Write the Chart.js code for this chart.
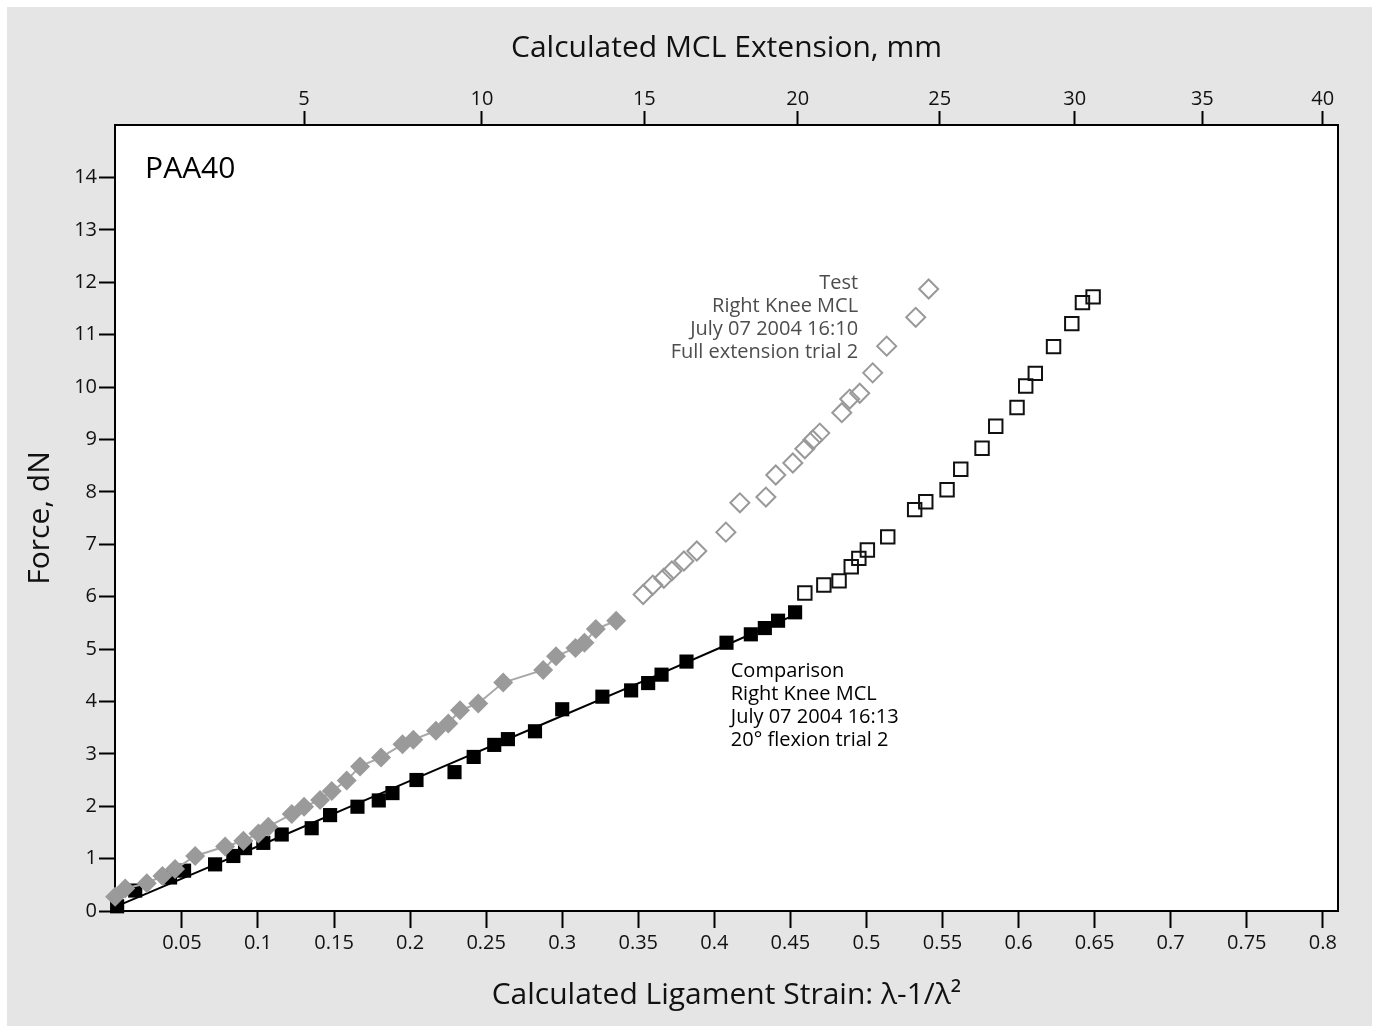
<!DOCTYPE html>
<html>
<head>
<meta charset="utf-8">
<script src="https://cdn.jsdelivr.net/npm/chart.js@4.4.0/dist/chart.umd.min.js"></script>
<style>
body{margin:0;background:#fff;}
#wrap{width:1378px;height:1031px;position:relative;}
</style>
</head>
<body>
<div id="wrap"><canvas id="myChart"></canvas></div>
<script>
// test run, full extension (grey diamonds)
const testFilledStrain=[0.0061,0.0127,0.0269,0.0372,0.0455,0.0587,0.0784,0.0904,0.1003,0.1068,0.1222,0.1303,0.1408,0.1485,0.1583,0.1671,0.1809,0.1950,0.2021,0.2170,0.2251,0.2328,0.2448,0.2612,0.2875,0.2959,0.3087,0.3146,0.3221,0.3355]
const testFilledForce=[0.27,0.43,0.53,0.67,0.80,1.05,1.23,1.34,1.48,1.61,1.85,1.99,2.12,2.29,2.49,2.76,2.93,3.18,3.27,3.44,3.58,3.83,3.96,4.36,4.60,4.86,5.02,5.12,5.38,5.54]
const testOpenStrain=[0.3532,0.3596,0.3668,0.3721,0.3800,0.3885,0.4076,0.4168,0.4339,0.4404,0.4516,0.4595,0.4647,0.4693,0.4838,0.4890,0.4956,0.5041,0.5133,0.5324,0.5409]
const testOpenForce=[6.04,6.22,6.35,6.49,6.68,6.87,7.23,7.79,7.90,8.32,8.55,8.82,8.99,9.12,9.51,9.77,9.88,10.27,10.78,11.33,11.87]

// comparison run, 20 deg flexion (black squares)
const compFilledStrain=[0.0074,0.0193,0.0422,0.0514,0.0718,0.0838,0.0915,0.1035,0.1156,0.1353,0.1474,0.1654,0.1794,0.1884,0.2042,0.2292,0.2418,0.2553,0.2643,0.2821,0.3000,0.3264,0.3453,0.3565,0.3653,0.3817,0.4080,0.4240,0.4332,0.4419,0.4531]
const compFilledForce=[0.09,0.39,0.64,0.77,0.89,1.05,1.20,1.30,1.46,1.58,1.83,1.99,2.11,2.25,2.50,2.65,2.94,3.17,3.28,3.43,3.85,4.09,4.21,4.35,4.51,4.76,5.12,5.28,5.40,5.54,5.70]
const compOpenStrain=[0.4595,0.472,0.482,0.490,0.495,0.5006,0.514,0.5317,0.539,0.553,0.562,0.576,0.585,0.599,0.6047,0.611,0.623,0.635,0.642,0.649]
const compOpenForce=[6.07,6.22,6.30,6.57,6.73,6.89,7.14,7.66,7.81,8.04,8.43,8.83,9.25,9.61,10.02,10.26,10.77,11.21,11.61,11.72]

// fitted line through the comparison run
const compFitStrain=[0.0061,0.1093,0.2164,0.3576,0.4529]
const compFitForce=[0.08,1.35,2.69,4.44,5.65]

// axes
const xTickValues=[0.05,0.1,0.15,0.2,0.25,0.3,0.35,0.4,0.45,0.5,0.55,0.6,0.65,0.7,0.75,0.8]
const yTickValues=[0,1,2,3,4,5,6,7,8,9,10,11,12,13,14]
const topTickLabels=['5','10','15','20','25','30','35','40']
const topTickStrain=[0.1303,0.2472,0.354,0.4548,0.5482,0.6369,0.7208,0.800]

const panelLabel='PAA40'
const testNote=['Test','Right Knee MCL','July 07 2004 16:10','Full extension trial 2']
const compNote=['Comparison','Right Knee MCL','July 07 2004 16:13','20° flexion trial 2']

function pts(xs,ys){
	return xs.map((v,i)=>({x:v,y:ys[i]}))
}

const FONT='"Open Sans", sans-serif'
Chart.defaults.font.family=FONT
Chart.defaults.color='#000'

const paper={
	id:'paper',
	beforeDraw(chart){
		const {ctx,width,height,chartArea:a}=chart
		ctx.save()
		ctx.fillStyle='#fff'
		ctx.fillRect(0,0,width,height)
		ctx.fillStyle='#e5e5e5'
		ctx.fillRect(7,7,width-13,height-12)
		ctx.fillStyle='#fff'
		ctx.fillRect(a.left,a.top,a.right-a.left,a.bottom-a.top)
		ctx.restore()
	},
	beforeDatasetsDraw(chart){
		const {ctx,chartArea:a}=chart
		ctx.save()
		ctx.strokeStyle='#000'
		ctx.lineWidth=2
		ctx.strokeRect(a.left,a.top,a.right-a.left,a.bottom-a.top)
		ctx.restore()
	},
	afterDatasetsDraw(chart){
		const {ctx,scales:{x,y}}=chart
		ctx.save()
		ctx.textBaseline='middle'
		ctx.font='30px '+FONT
		ctx.fillStyle='#000'
		ctx.textAlign='left'
		ctx.fillText(panelLabel,x.getPixelForValue(0.0258),y.getPixelForValue(14.16))

		ctx.font='20px '+FONT
		ctx.textAlign='right'
		ctx.fillStyle='#4d4d4d'
		testNote.forEach((t,i)=>{
			ctx.fillText(t,x.getPixelForValue(0.4945),y.getPixelForValue(11.97)+i*23)
		})
		ctx.textAlign='left'
		ctx.fillStyle='#000'
		compNote.forEach((t,i)=>{
			ctx.fillText(t,x.getPixelForValue(0.4108),y.getPixelForValue(4.57)+i*23)
		})
		ctx.restore()
	}
}

const tickGrid=(len)=>({display:true,drawOnChartArea:false,drawTicks:true,tickLength:len,tickColor:'#000',tickWidth:2,color:'#000'})

var ctx=document.getElementById('myChart').getContext('2d')
let myChart=new Chart(ctx,{
	type:'scatter',
	data:{
		datasets:[
		{
			label:'Test',
			data:pts(testFilledStrain,testFilledForce),
			showLine:true,
			borderColor:'#a8a8a8',
			borderWidth:2,
			pointStyle:'rectRot',
			pointRadius:10,
			pointBackgroundColor:'#9a9a9a',
			pointBorderWidth:0,
			clip:false,
		},
		{
			label:'Comparison',
			data:pts(compFilledStrain,compFilledForce),
			showLine:false,
			pointStyle:'rect',
			pointRadius:10,
			pointBackgroundColor:'#000',
			pointBorderWidth:0,
			clip:false,
		},
		{
			label:'Comparison fit',
			data:pts(compFitStrain,compFitForce),
			showLine:true,
			tension:0.3,
			borderColor:'#000',
			borderWidth:2,
			pointRadius:0,
			clip:false,
		},
		{
			label:'Test (rest)',
			data:pts(testOpenStrain,testOpenForce),
			showLine:false,
			pointStyle:'rectRot',
			pointRadius:9.5,
			pointBackgroundColor:'rgba(0,0,0,0)',
			pointBorderColor:'#999',
			pointBorderWidth:2,
			clip:false,
		},
		{
			label:'Comparison (rest)',
			data:pts(compOpenStrain,compOpenForce),
			showLine:false,
			pointStyle:'rect',
			pointRadius:9.5,
			pointBackgroundColor:'rgba(0,0,0,0)',
			pointBorderColor:'#111',
			pointBorderWidth:2,
			clip:false,
		},
		]
	},
	options:{
		responsive:true,
		maintainAspectRatio:false,
		animation:false,
		layout:{padding:{left:0,right:40,top:0,bottom:0}},
		plugins:{legend:{display:false},tooltip:{enabled:false}},
		scales:{
			x:{
				type:'linear',position:'bottom',min:0.006,max:0.81,
				border:{display:false},
				grid:tickGrid(17),
				afterBuildTicks(s){s.ticks=xTickValues.map(v=>({value:v}))},
				afterFit(s){s.height=120},
				ticks:{autoSkip:false,maxRotation:0,padding:3,font:{size:20},color:'#111',
					callback:v=>String(Number(v.toFixed(2)))},
				title:{display:true,text:'Calculated Ligament Strain: λ-1/λ²',font:{size:30},padding:{top:0,bottom:18},color:'#111'}
			},
			x2:{
				type:'linear',position:'top',min:0.006,max:0.81,
				border:{display:false},
				grid:tickGrid(14),
				afterBuildTicks(s){s.ticks=topTickStrain.map(v=>({value:v}))},
				afterFit(s){s.height=125},
				ticks:{autoSkip:false,maxRotation:0,padding:0,font:{size:20},color:'#111',
					callback:(v,i)=>topTickLabels[i]},
				title:{display:true,text:'Calculated MCL Extension, mm',font:{size:30},padding:{top:30,bottom:0},color:'#111'}
			},
			y:{
				type:'linear',position:'left',min:0,max:15,
				border:{display:false},
				grid:tickGrid(16),
				afterBuildTicks(s){s.ticks=yTickValues.map(v=>({value:v}))},
				afterFit(s){s.width=115},
				ticks:{autoSkip:false,padding:2,font:{size:20},color:'#111'},
				title:{display:true,text:'Force, dN',font:{size:30},padding:{top:22,bottom:0},color:'#111'}
			}
		}
	},
	plugins:[paper]
})
</script>
</body>
</html>
